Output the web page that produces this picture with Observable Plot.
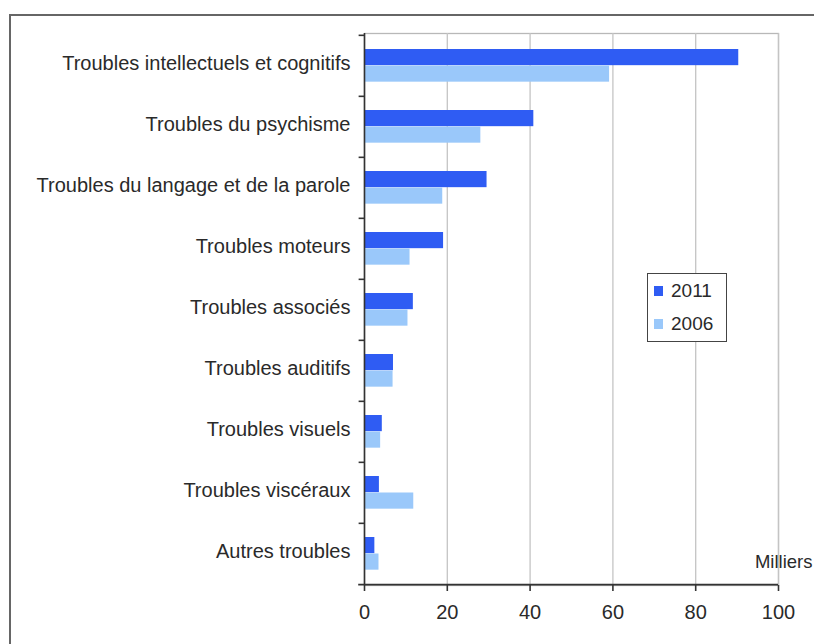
<!DOCTYPE html>
<html>
<head>
<meta charset="utf-8">
<script src="https://cdn.jsdelivr.net/npm/d3@7"></script>
<script src="https://cdn.jsdelivr.net/npm/@observablehq/plot@0.6"></script>
<style>
  body { margin: 0; background: #fff; font-family: "Liberation Sans", Arial, sans-serif; }
  #wrap { position: relative; width: 814px; height: 644px; overflow: hidden; }
  #outer { position: absolute; left: 9px; top: 14px; width: 900px; height: 700px; border: 2px solid #666; box-sizing: border-box; }
  #chart { position: absolute; left: 0; top: 0; }
  #legend { position: absolute; left: 647px; top: 273px; width: 80px; height: 69px; border: 1.5px solid #444; box-sizing: border-box; background: #fff; }
  .item { position: absolute; left: 6px; display: flex; align-items: center; font-size: 19px; color: #2a2a2a; }
  .sw { width: 9px; height: 10px; margin-right: 8px; }
</style>
</head>
<body>
<div id="wrap">
  <div id="outer"></div>
  <div id="chart"></div>
  <div id="legend"></div>
</div>
<script>
const categories = [
  "Troubles intellectuels et cognitifs",
  "Troubles du psychisme",
  "Troubles du langage et de la parole",
  "Troubles moteurs",
  "Troubles associés",
  "Troubles auditifs",
  "Troubles visuels",
  "Troubles viscéraux",
  "Autres troubles"
];
const values2011 = [90.4, 40.9, 29.6, 19.1, 11.8, 7.0, 4.3, 3.6, 2.5];
const values2006 = [59.2, 28.1, 18.9, 11.0, 10.5, 6.9, 3.9, 11.9, 3.5];
const years = ["2011", "2006"];
const colors = ["#2f5cf3", "#9ac8fa"];
const xTicks = [0, 20, 40, 60, 80, 100];
const gridTicks = [20, 40, 60, 80, 100];

const data = categories.map((c, i) => ({cat: c, v2011: values2011[i], v2006: values2006[i]}));

const W = 814, H = 644;
const mTop = 33, mBottom = 59, mLeft = 364, mRight = 36;
const step = (H - mTop - mBottom) / categories.length;
const barH = 16.5;
const off = 14;

const chart = Plot.plot({
  width: W,
  height: H,
  marginLeft: mLeft,
  marginRight: mRight,
  marginTop: mTop,
  marginBottom: mBottom,
  style: {fontFamily: "'Liberation Sans', Arial, sans-serif", color: "#2a2a2a", background: "transparent"},
  x: {domain: [0, 100], label: null},
  y: {domain: categories, padding: 0, label: null},
  marks: [
    Plot.frame({stroke: "#b8b8b8", strokeWidth: 1.3}),
    Plot.ruleX(gridTicks, {stroke: "#c4c4c4", strokeWidth: 1.3}),
    Plot.barX(data, {x: "v2011", y: "cat", fill: colors[0], insetTop: off, insetBottom: step - off - barH}),
    Plot.barX(data, {x: "v2006", y: "cat", fill: colors[1], insetTop: off + barH, insetBottom: step - off - 2 * barH}),
    Plot.ruleX([0], {stroke: "#333", strokeWidth: 1.6}),
    Plot.ruleY(categories, {y: d => d, x1: -1.3, x2: 0, dy: -step / 2, stroke: "#333", strokeWidth: 1.6}),
    Plot.ruleY([categories[categories.length - 1]], {y: d => d, x1: -1.4, x2: 100, dy: step / 2, stroke: "#333", strokeWidth: 1.6}),
    Plot.axisX({ticks: xTicks, tickSize: 6, tickPadding: 13, fontSize: 20, stroke: "#333", strokeWidth: 1.6, fill: "#2a2a2a", label: null}),
    Plot.axisY({tickSize: 0, tickPadding: 14, fontSize: 20, dy: -2, fill: "#2a2a2a", label: null}),
    Plot.text(["Milliers"], {frameAnchor: "bottom-right", textAnchor: "end", dx: 34, dy: -18, fontSize: 18.5, fill: "#2a2a2a"})
  ]
});
document.getElementById("chart").appendChild(chart);

const legend = document.getElementById("legend");
years.forEach((y, i) => {
  const it = document.createElement("div");
  it.className = "item";
  it.style.top = (6 + i * 33) + "px";
  it.innerHTML = `<span class="sw" style="background:${colors[i]}"></span><span>${y}</span>`;
  legend.appendChild(it);
});
</script>
</body>
</html>
